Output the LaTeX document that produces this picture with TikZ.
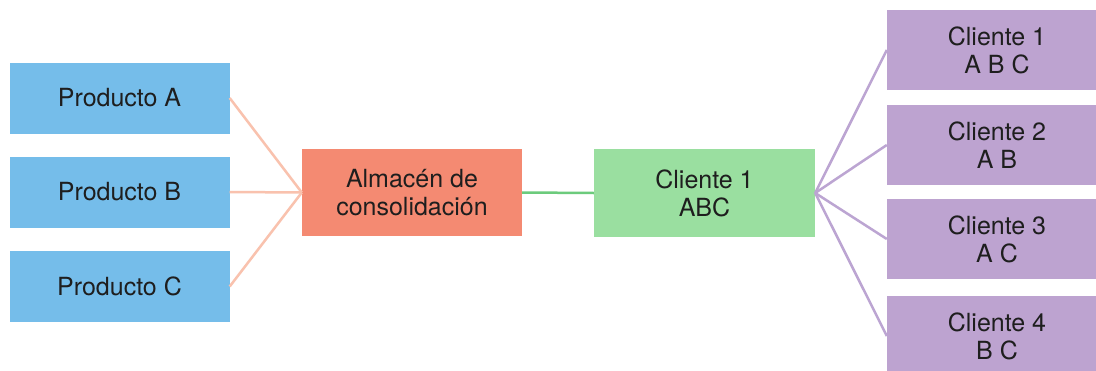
\documentclass[tikz,border=0pt]{standalone}
\usepackage{fontspec}
\setmainfont{TeX Gyre Heros}
\usetikzlibrary{positioning}

\definecolor{prodblue}{HTML}{75BDEA}
\definecolor{almsalmon}{HTML}{F48A72}
\definecolor{cligreen}{HTML}{9ADFA0}
\definecolor{clipurple}{HTML}{BDA3D0}
\definecolor{salmonline}{HTML}{F9C2AE}
\definecolor{greenline}{HTML}{6CCB7C}
\definecolor{purpleline}{HTML}{BCA5D2}
\definecolor{boxtext}{HTML}{1E1E1E}

\begin{document}
\begin{tikzpicture}[
    x=1pt, y=-1pt,
    box/.style={
        rectangle,
        inner sep=0pt,
        align=center,
        text=boxtext,
        font=\fontsize{25}{28}\selectfont
    },
    producto/.style={
        box,
        fill=prodblue,
        minimum width=220pt,
        minimum height=71pt
    },
    almacen/.style={
        box,
        fill=almsalmon,
        minimum width=220pt,
        minimum height=87pt
    },
    cliente/.style={
        box,
        fill=cligreen,
        minimum width=221pt,
        minimum height=88pt
    },
    destino/.style={
        box,
        fill=clipurple,
        minimum width=220pt,
        minimum height=80pt
    },
    link/.style={
        line width=2.5pt
    }
]

    \clip (0,0) rectangle (1096,370);
    \fill[white] (0,0) rectangle (1096,370);

    % Products
    \node[producto] (prodA) at (119.5,98) {Producto A};
    \node[producto] (prodB) at (119.5,192) {Producto B};
    \node[producto] (prodC) at (119.5,286.5) {Producto C};

    % Consolidation warehouse
    \node[almacen] (alm) at (412,192.5) {Almacén de\\consolidación};

    % Consolidated client
    \node[cliente] (cli) at (704.5,193) {Cliente 1\\ABC};

    % Final clients
    \node[destino] (cli1) at (997,50) {Cliente 1\\A B C};
    \node[destino] (cli2) at (997,145) {Cliente 2\\A B};
    \node[destino] (cli3) at (997,239) {Cliente 3\\A C};
    \node[destino] (cli4) at (997,336) {Cliente 4\\B C};

    \draw[link, salmonline] (prodA.east) -- (alm.west);
    \draw[link, salmonline] (prodB.east) -- (alm.west);
    \draw[link, salmonline] (prodC.east) -- (alm.west);

    \draw[link, greenline] (alm.east) -- (cli.west);

    \draw[link, purpleline] (cli.east) -- (cli1.west);
    \draw[link, purpleline] (cli.east) -- (cli2.west);
    \draw[link, purpleline] (cli.east) -- (cli3.west);
    \draw[link, purpleline] (cli.east) -- (cli4.west);
\end{tikzpicture}
\end{document}
